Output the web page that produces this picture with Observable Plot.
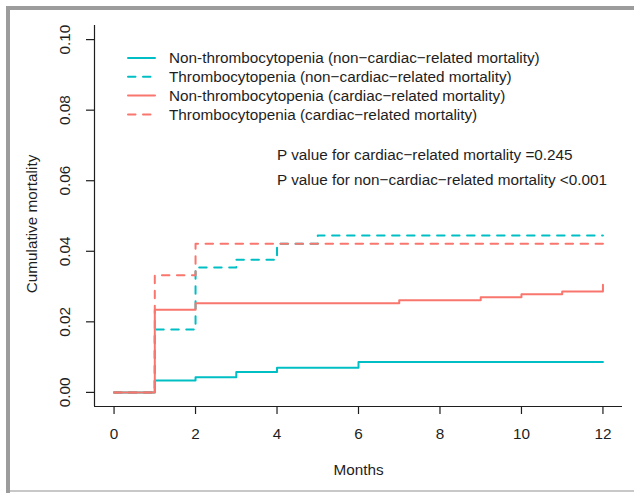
<!DOCTYPE html>
<html><head><meta charset="utf-8">
<script src="https://cdn.jsdelivr.net/npm/d3@7"></script>
<script src="https://cdn.jsdelivr.net/npm/@observablehq/plot@0.6"></script>
<style>
html,body{margin:0;padding:0;background:#fff;}
#wrap{position:relative;width:634px;height:493px;overflow:hidden;font-family:"Liberation Sans",Arial,Helvetica,sans-serif;}
#wrap svg{position:absolute;left:0;top:0;}
.bt{position:absolute;left:6px;top:6px;width:628px;height:4px;background:#9c9c9c;}
.bl{position:absolute;left:6px;top:6px;width:4px;height:487px;background:#9c9c9c;}
.bb{position:absolute;left:10px;top:490px;width:624px;height:2px;background:#c8c8c8;}
</style></head><body><div id="wrap"><div class="bt"></div><div class="bl"></div><div class="bb"></div></div>
<script>
// ---- data ----
const nonThrNonCardMonths = [0, 1, 2, 3, 4, 6, 12];
const nonThrNonCardValues = [0, 0.0034, 0.0043, 0.0058, 0.0070, 0.0086, 0.0086];
const thrNonCardMonths = [0, 1, 2, 3, 4, 5, 12];
const thrNonCardValues = [0, 0.0178, 0.0354, 0.0376, 0.0421, 0.0445, 0.0445];
const nonThrCardMonths = [0, 1, 2, 7, 9, 10, 11, 12];
const nonThrCardValues = [0, 0.0234, 0.0253, 0.0261, 0.0270, 0.0278, 0.0286, 0.0305];
const thrCardMonths = [0, 1, 2, 12];
const thrCardValues = [0, 0.0332, 0.0421, 0.0421];

const seriesLabels = [
  "Non-thrombocytopenia (non\u2212cardiac\u2212related mortality)",
  "Thrombocytopenia (non\u2212cardiac\u2212related mortality)",
  "Non-thrombocytopenia (cardiac\u2212related mortality)",
  "Thrombocytopenia (cardiac\u2212related mortality)"
];
const xTicks = [0, 2, 4, 6, 8, 10, 12];
const yTicks = [0, 0.02, 0.04, 0.06, 0.08, 0.10];
const pTexts = [
  "P value for cardiac\u2212related mortality =0.245",
  "P value for non\u2212cardiac\u2212related mortality <0.001"
];
const xTitle = "Months";
const yTitle = "Cumulative mortality";

// ---- styling ----
const cyan = "#00BFC4", red = "#F8766D";
const dash = "7.5,7.5";
const seriesStyles = [
  {color: cyan, dash: null},
  {color: cyan, dash: dash},
  {color: red, dash: null},
  {color: red, dash: dash}
];

const toRows = (ms, vs) => ms.map((m, i) => ({month: m, value: vs[i]}));
const seriesData = [
  toRows(nonThrNonCardMonths, nonThrNonCardValues),
  toRows(thrNonCardMonths, thrNonCardValues),
  toRows(nonThrCardMonths, nonThrCardValues),
  toRows(thrCardMonths, thrCardValues)
];

// R-style 4% axis extension
const xLim = [0, 12], yLim = [0, 0.10];
const xPad = (xLim[1] - xLim[0]) * 0.04, yPad = (yLim[1] - yLim[0]) * 0.04;
const xDomain = [xLim[0] - xPad, xLim[1] + xPad];
const yDomain = [yLim[0] - yPad, yLim[1] + yPad];

const ink = "#1e1e1e";

function legendMark(index, scales, values, dims) {
  const g = d3.create("svg:g").attr("fill", ink).attr("text-anchor", "start");
  const x0 = dims.marginLeft, y0 = dims.marginTop;
  seriesLabels.forEach((label, i) => {
    const y = y0 + 33 + i * 18.8;
    g.append("line")
      .attr("x1", x0 + 34).attr("x2", x0 + 61)
      .attr("y1", y).attr("y2", y)
      .attr("stroke", seriesStyles[i].color)
      .attr("stroke-width", 2)
      .attr("stroke-linecap", "round")
      .attr("stroke-dasharray", seriesStyles[i].dash);
    g.append("text").attr("x", x0 + 75).attr("y", y).attr("dy", "0.35em")
      .attr("text-anchor", "start").text(label);
  });
  pTexts.forEach((t, i) => {
    g.append("text").attr("x", x0 + 183).attr("y", y0 + 130 + i * 25).attr("dy", "0.35em")
      .attr("text-anchor", "start").text(t);
  });
  return g.node();
}

const chart = Plot.plot({
  width: 634,
  height: 493,
  marginLeft: 94,
  marginRight: 12,
  marginTop: 25,
  marginBottom: 87,
  style: {fontFamily: "'Liberation Sans', Arial, Helvetica, sans-serif", fontSize: "15.3px", color: ink, background: "transparent", overflow: "visible"},
  x: {domain: xDomain},
  y: {domain: yDomain},
  marks: [
    ...seriesData.map((d, i) => Plot.line(d, {
      x: "month", y: "value", curve: "step-after",
      stroke: seriesStyles[i].color, strokeWidth: 2,
      strokeDasharray: seriesStyles[i].dash, strokeLinecap: "round"
    })),
    Plot.ruleX([xDomain[0]], {stroke: ink, strokeWidth: 1.2}),
    Plot.ruleY([yDomain[0]], {stroke: ink, strokeWidth: 1.2}),
    Plot.axisX(xTicks, {anchor: "bottom", tickSize: 8, tickFormat: () => "", label: null, stroke: ink, strokeWidth: 1.2}),
    Plot.axisY(yTicks, {anchor: "left", tickSize: 8, tickFormat: () => "", label: null, stroke: ink, strokeWidth: 1.2}),
    Plot.text(xTicks, {x: d => d, text: d => String(d), frameAnchor: "bottom", dy: 28, lineAnchor: "middle", fill: ink}),
    Plot.text(yTicks, {y: d => d, text: d => d.toFixed(2), frameAnchor: "left", dx: -29, rotate: -90, textAnchor: "middle", lineAnchor: "middle", fill: ink}),
    Plot.text([xTitle], {text: d => d, frameAnchor: "bottom", dy: 64, lineAnchor: "middle", fill: ink}),
    Plot.text([yTitle], {text: d => d, frameAnchor: "left", dx: -62, dy: 8, rotate: -90, textAnchor: "middle", lineAnchor: "middle", fill: ink}),
    legendMark
  ]
});
document.getElementById("wrap").prepend(chart);
</script></body></html>
